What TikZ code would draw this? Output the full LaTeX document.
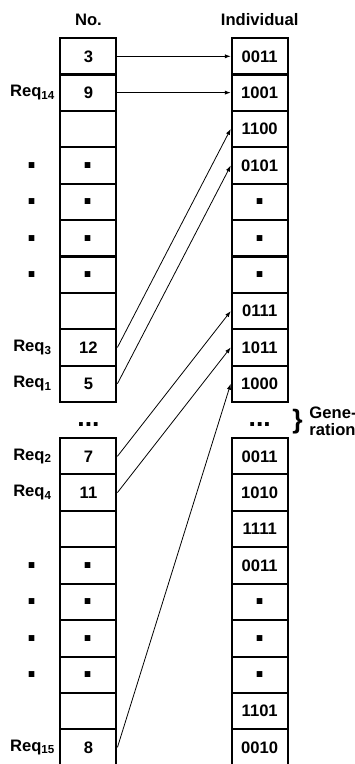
\documentclass[tikz,border=0pt]{standalone}
\usepackage{fontspec}
\setmainfont{Liberation Sans}
\usetikzlibrary{arrows.meta,positioning}

\begin{document}
\begin{tikzpicture}[x=1cm,y=1cm]
\tikzset{
  cellnode/.style={rectangle,draw,line width=1.5pt,minimum width=1.48cm,minimum height=0.963cm,inner sep=0pt,font=\fontsize{12.5}{14}\selectfont\bfseries},
  labelnode/.style={inner sep=0pt,font=\fontsize{12.5}{14}\selectfont\bfseries},
  dotfont/.style={font=\fontsize{30}{30}\selectfont\bfseries},
  gapfont/.style={font=\fontsize{20}{20}\selectfont\bfseries},
  directed/.style={-{Latex[length=4.5pt,width=3.2pt]},line width=0.6pt}
}
\useasboundingbox (0,0) rectangle (9.39,-20.21);
% headers
\node[labelnode] (h_no) at (2.34,-0.53) {No.};
\node[labelnode] (h_ind) at (6.87,-0.53) {Individual};
% left column, upper block
\node[cellnode] (n_l1) at (2.34,-1.49) {3};
\node[cellnode] (n_l2) at (2.34,-2.45) {9};
\node[cellnode] (n_l3) at (2.34,-3.41) {};
\node[cellnode,dotfont] (n_l4) at (2.34,-4.38) {.};
\node[cellnode,dotfont] (n_l5) at (2.34,-5.34) {.};
\node[cellnode,dotfont] (n_l6) at (2.34,-6.30) {.};
\node[cellnode,dotfont] (n_l7) at (2.34,-7.27) {.};
\node[cellnode] (n_l8) at (2.34,-8.23) {};
\node[cellnode] (n_l9) at (2.34,-9.19) {12};
\node[cellnode] (n_l10) at (2.34,-10.15) {5};
% right column, upper block
\node[cellnode] (n_r1) at (6.87,-1.49) {0011};
\node[cellnode] (n_r2) at (6.87,-2.45) {1001};
\node[cellnode] (n_r3) at (6.87,-3.41) {1100};
\node[cellnode] (n_r4) at (6.87,-4.38) {0101};
\node[cellnode,dotfont] (n_r5) at (6.87,-5.34) {.};
\node[cellnode,dotfont] (n_r6) at (6.87,-6.30) {.};
\node[cellnode,dotfont] (n_r7) at (6.87,-7.27) {.};
\node[cellnode] (n_r8) at (6.87,-8.23) {0111};
\node[cellnode] (n_r9) at (6.87,-9.19) {1011};
\node[cellnode] (n_r10) at (6.87,-10.15) {1000};
% labels, upper block
\node[labelnode] (q_14) at (0.86,-2.45) {Req\textsubscript{14}};
\node[labelnode,dotfont] (d_l4) at (0.86,-4.38) {.};
\node[labelnode,dotfont] (d_l5) at (0.86,-5.34) {.};
\node[labelnode,dotfont] (d_l6) at (0.86,-6.30) {.};
\node[labelnode,dotfont] (d_l7) at (0.86,-7.27) {.};
\node[labelnode] (q_3) at (0.86,-9.19) {Req\textsubscript{3}};
\node[labelnode] (q_1) at (0.86,-10.15) {Req\textsubscript{1}};
% gap between generations
\node[labelnode,gapfont] (g_l) at (2.34,-11.24) {...};
\node[labelnode,gapfont] (g_r) at (6.87,-11.24) {...};
\node[labelnode,font=\fontsize{20}{20}\selectfont\bfseries] (g_brace) at (7.87,-11.16) {\}};
\node[labelnode,anchor=west,align=left,font=\fontsize{12.5}{13}\selectfont\bfseries] (g_text) at (8.18,-11.14) {Gene-\\ration};
% left column, lower block
\node[cellnode] (n_lb1) at (2.34,-12.07) {7};
\node[cellnode] (n_lb2) at (2.34,-13.03) {11};
\node[cellnode] (n_lb3) at (2.34,-14.00) {};
\node[cellnode,dotfont] (n_lb4) at (2.34,-14.96) {.};
\node[cellnode,dotfont] (n_lb5) at (2.34,-15.92) {.};
\node[cellnode,dotfont] (n_lb6) at (2.34,-16.89) {.};
\node[cellnode,dotfont] (n_lb7) at (2.34,-17.85) {.};
\node[cellnode] (n_lb8) at (2.34,-18.81) {};
\node[cellnode] (n_lb9) at (2.34,-19.77) {8};
% right column, lower block
\node[cellnode] (n_rb1) at (6.87,-12.07) {0011};
\node[cellnode] (n_rb2) at (6.87,-13.03) {1010};
\node[cellnode] (n_rb3) at (6.87,-14.00) {1111};
\node[cellnode] (n_rb4) at (6.87,-14.96) {0011};
\node[cellnode,dotfont] (n_rb5) at (6.87,-15.92) {.};
\node[cellnode,dotfont] (n_rb6) at (6.87,-16.89) {.};
\node[cellnode,dotfont] (n_rb7) at (6.87,-17.85) {.};
\node[cellnode] (n_rb8) at (6.87,-18.81) {1101};
\node[cellnode] (n_rb9) at (6.87,-19.77) {0010};
% labels, lower block
\node[labelnode] (q_2) at (0.86,-12.07) {Req\textsubscript{2}};
\node[labelnode] (q_4) at (0.86,-13.03) {Req\textsubscript{4}};
\node[labelnode,dotfont] (d_lb4) at (0.86,-14.96) {.};
\node[labelnode,dotfont] (d_lb5) at (0.86,-15.92) {.};
\node[labelnode,dotfont] (d_lb6) at (0.86,-16.89) {.};
\node[labelnode,dotfont] (d_lb7) at (0.86,-17.85) {.};
\node[labelnode] (q_15) at (0.86,-19.77) {Req\textsubscript{15}};
% mapping
\draw[directed] (n_l1.east) -- (n_r1.west);
\draw[directed] (n_l2.east) -- (n_r2.west);
\draw[directed] (n_l9.east) -- (n_r3.west);
\draw[directed] (n_l10.east) -- (n_r4.west);
\draw[directed] (n_lb1.east) -- (n_r8.west);
\draw[directed] (n_lb2.east) -- (n_r9.west);
\draw[directed] (n_lb9.east) -- (n_r10.west);
\end{tikzpicture}
\end{document}
